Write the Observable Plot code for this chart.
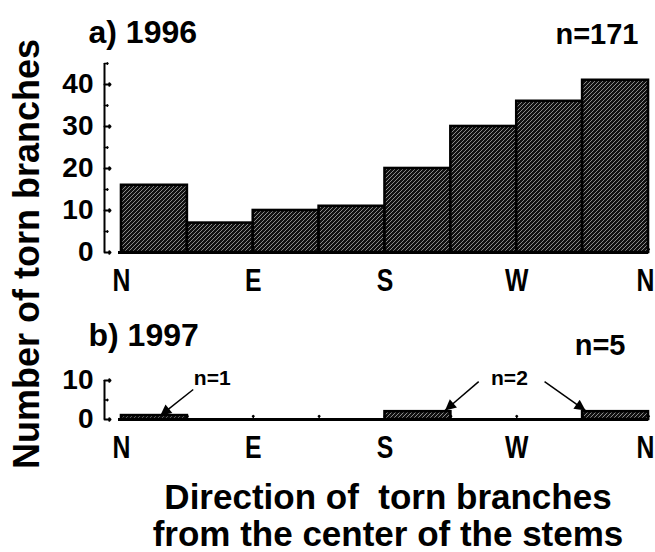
<!DOCTYPE html>
<html><head><meta charset="utf-8">
<script src="https://cdn.jsdelivr.net/npm/d3@7"></script>
<script src="https://cdn.jsdelivr.net/npm/@observablehq/plot@0.6"></script>
<style>
body{margin:0;background:#fff;}
#c{position:relative;width:655px;height:552px;background:#fff;overflow:hidden;}
#c svg{position:absolute;left:0;}
.t{position:absolute;font-family:"Liberation Sans",Arial,sans-serif;font-weight:bold;color:#000;white-space:pre;}
#ytitle{left:-213px;top:234px;width:480px;height:40px;line-height:40px;font-size:36px;text-align:center;transform:rotate(-90deg);}
#xtitle{left:121px;top:478px;width:534px;height:74px;line-height:37px;font-size:35px;text-align:center;}
</style></head>
<body><div id="c"></div>
<script>
// ---- data ----
const directions    = ["N","NE","E","SE","S","SW","W","NW"];
const sectorStart   = [0,45,90,135,180,225,270,315];
const sectorEnd     = [45,90,135,180,225,270,315,360];
const counts1996    = [16,7,10,11,20,30,36,41];
const counts1997    = [1,0,0,0,2,0,0,2];
const compassDeg    = [0,90,180,270,360];
const compassLabels = ["N","E","S","W","N"];
const sectorTicks   = [0,45,90,135,180,225,270,315,360];
const yMajorA = [0,10,20,30,40];
const yMinorA = [5,15,25,35,45];
const yMajorB = [0,10];
const yMinorB = [5];
const panelTitles = ["a) 1996","b) 1997"];
const panelN      = ["n=171","n=5"];
const noteLabels  = ["n=1","n=2"];
const noteDeg     = [62,265];
const noteY       = [10.6,10.6];
const arrowFromDeg = [49,244,289];
const arrowFromY   = [7.7,9.7,9.7];
const arrowToDeg   = [26.5,221,317];
const arrowToY     = [1.0,2.3,2.3];
const yTitle = "Number of torn branches";
const xTitle = ["Direction of  torn branches","from the center of the stems"];

const sectors = directions.map((d,i)=>({dir:d,x1:sectorStart[i],x2:sectorEnd[i],a:counts1996[i],b:counts1997[i]}));
const notes = noteLabels.map((t,i)=>({t,x:noteDeg[i],y:noteY[i]}));
const arrows = arrowFromDeg.map((d,i)=>({x1:d,y1:arrowFromY[i],x2:arrowToDeg[i],y2:arrowToY[i]}));

const TICKFONT = '"Liberation Sans",Arial,sans-serif';
const compassFmt = d => compassLabels[compassDeg.indexOf(d)];

function makePanel(o){
  const rows = sectors.filter(d=>d[o.key]>0);
  const svg = Plot.plot({
    width:655, height:o.height,
    marginLeft:121, marginRight:7, marginTop:o.mTop, marginBottom:o.mBottom,
    x:{domain:[0,360], range:[121,648]},
    y:{domain:o.yDomain, range:o.yRange},
    style:{fontFamily:TICKFONT, fontWeight:"bold", background:"transparent", color:"black", overflow:"visible"},
    marks:[
      Plot.rectY(rows,{x1:"x1",x2:"x2",y1:0,y2:o.key,fill:`url(#${o.hatch})`,stroke:"black",strokeWidth:2.6}),
      Plot.ruleY([0],{stroke:"black",strokeWidth:3,insetLeft:-3}),
      Plot.vector(sectorTicks,{x:d=>d,y:0,length:4,anchor:"start",rotate:0,strokeWidth:1.5}),
      Plot.ruleX([0],{y1:o.yDomain[0],y2:o.yDomain[1],dx:-17,strokeWidth:2}),
      Plot.vector(o.major,{x:0,y:d=>d,length:6,rotate:90,anchor:"start",dx:-17,strokeWidth:2}),
      Plot.vector(o.minor,{x:0,y:d=>d,length:3.5,rotate:90,anchor:"start",dx:-17,strokeWidth:1.5}),
      Plot.axisY({ticks:o.major,tickSize:0,tickPadding:28,fontSize:28,label:null}),
      Plot.axisX({ticks:compassDeg.slice(0,4),tickFormat:compassFmt,tickSize:0,tickPadding:16,fontSize:31,label:null}),
      Plot.axisX({ticks:compassDeg.slice(4),tickFormat:compassFmt,tickSize:0,tickPadding:16,fontSize:31,label:null,dx:-3}),
      Plot.text([o.title],{text:d=>d,frameAnchor:"top-left",lineAnchor:"middle",dx:-33,dy:o.titleDy,textAnchor:"start",fontSize:32,fontWeight:"bold"}),
      Plot.text([o.n],{text:d=>d,frameAnchor:"top-right",lineAnchor:"middle",dx:o.nDx,dy:o.nDy,textAnchor:"end",fontSize:29,fontWeight:"bold"}),
      ...(o.extra||[])
    ]
  });
  const s = d3.select(svg);
  s.insert("defs",":first-child").html(
    `<pattern id="${o.hatch}" patternUnits="userSpaceOnUse" width="4" height="4">
       <rect width="4" height="4" fill="#111"/>
       <path d="M-1,1 l2,-2 M0,4 l4,-4 M3,5 l2,-2" stroke="#aaa" stroke-width="0.8"/>
     </pattern>
     <marker id="${o.tri}" viewBox="0 0 10 10" refX="10" refY="5" markerWidth="15" markerHeight="11" markerUnits="userSpaceOnUse" orient="auto">
       <path d="M0,0 L10,5 L0,10 z" fill="black"/>
     </marker>`);
  s.selectAll('g[aria-label="link"] path').attr("marker-end",`url(#${o.tri})`);
  // condensed look for the compass letters
  s.selectAll('g[aria-label="x-axis tick label"] text').each(function(){
    const t = this.getAttribute("transform") || "";
    this.setAttribute("transform", t + " scale(0.8,1)");
  });
  return svg;
}

const svgA = makePanel({key:"a",height:300,mTop:63,mBottom:48,yDomain:[0,45],yRange:[252,63],
  major:yMajorA,minor:yMinorA,title:panelTitles[0],n:panelN[0],titleDy:-31,nDx:-10,nDy:-29,hatch:"hatchA",tri:"triA"});
const svgB = makePanel({key:"b",height:165,mTop:80,mBottom:46,yDomain:[0,10],yRange:[119,80],
  major:yMajorB,minor:yMinorB,title:panelTitles[1],n:panelN[1],titleDy:-45,nDx:-23,nDy:-35,hatch:"hatchB",tri:"triB",
  extra:[
    Plot.link(arrows,{x1:"x1",y1:"y1",x2:"x2",y2:"y2",stroke:"black",strokeWidth:1.5}),
    Plot.text(notes,{x:"x",y:"y",text:"t",fontSize:21,fontWeight:"bold"})
  ]});
svgA.style.top="0px";
svgB.style.top="300px";
const c = document.getElementById("c");
c.append(svgA, svgB);
const yt = document.createElement("div"); yt.className="t"; yt.id="ytitle"; yt.textContent=yTitle; c.append(yt);
const xt = document.createElement("div"); xt.className="t"; xt.id="xtitle"; xt.textContent=xTitle.join("\n"); c.append(xt);
</script>
</body></html>
